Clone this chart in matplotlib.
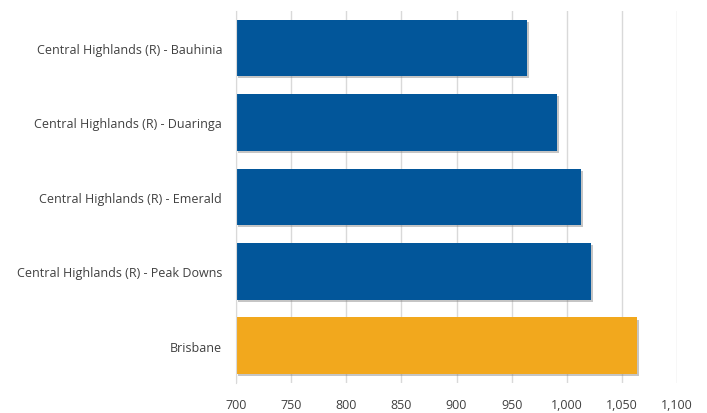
import matplotlib
matplotlib.use("Agg")
import matplotlib.pyplot as plt
import matplotlib.patheffects as pe
from matplotlib.ticker import FuncFormatter

categories = [
    "Central Highlands (R) - Bauhinia",
    "Central Highlands (R) - Duaringa",
    "Central Highlands (R) - Emerald",
    "Central Highlands (R) - Peak Downs",
    "Brisbane",
]
values = [964, 991, 1013, 1022, 1064]
colors = ["#02569a", "#02569a", "#02569a", "#02569a", "#f2a81d"]
xticks = [700, 750, 800, 850, 900, 950, 1000, 1050, 1100]

fig = plt.figure(figsize=(7.07, 4.14), dpi=100)
ax = fig.add_axes([0.3338, 0.0725, 0.6238, 0.8992])

y = list(range(len(categories)))[::-1]
bars = ax.barh(y, [v - 700 for v in values], left=700, height=0.76,
               color=colors, zorder=3)
for b in bars:
    b.set_path_effects([pe.SimplePatchShadow(offset=(1.5, -1.5), shadow_rgbFace="#7f7f7f", alpha=0.45),
                        pe.Normal()])

ax.set_xlim(700, 1100)
ax.set_ylim(-0.5, len(categories) - 0.5)
ax.set_xticks(xticks)
ax.xaxis.set_major_formatter(FuncFormatter(lambda v, p: f"{int(v):,}"))
ax.set_yticks(y)
ax.set_yticklabels(categories)

ax.grid(axis="x", color="#d9d9d9", linewidth=1, zorder=0)
for s in ["top", "right", "bottom"]:
    ax.spines[s].set_visible(False)
ax.spines["left"].set_color("#d9d9d9")
ax.spines["left"].set_zorder(4)
ax.tick_params(axis="both", length=0, labelsize=9, labelcolor="#404040")
ax.tick_params(axis="x", pad=11)
ax.tick_params(axis="y", pad=10)
for t in ax.get_xticklabels() + ax.get_yticklabels():
    t.set_fontfamily("Open Sans")

fig.savefig("out.png", dpi=100)
